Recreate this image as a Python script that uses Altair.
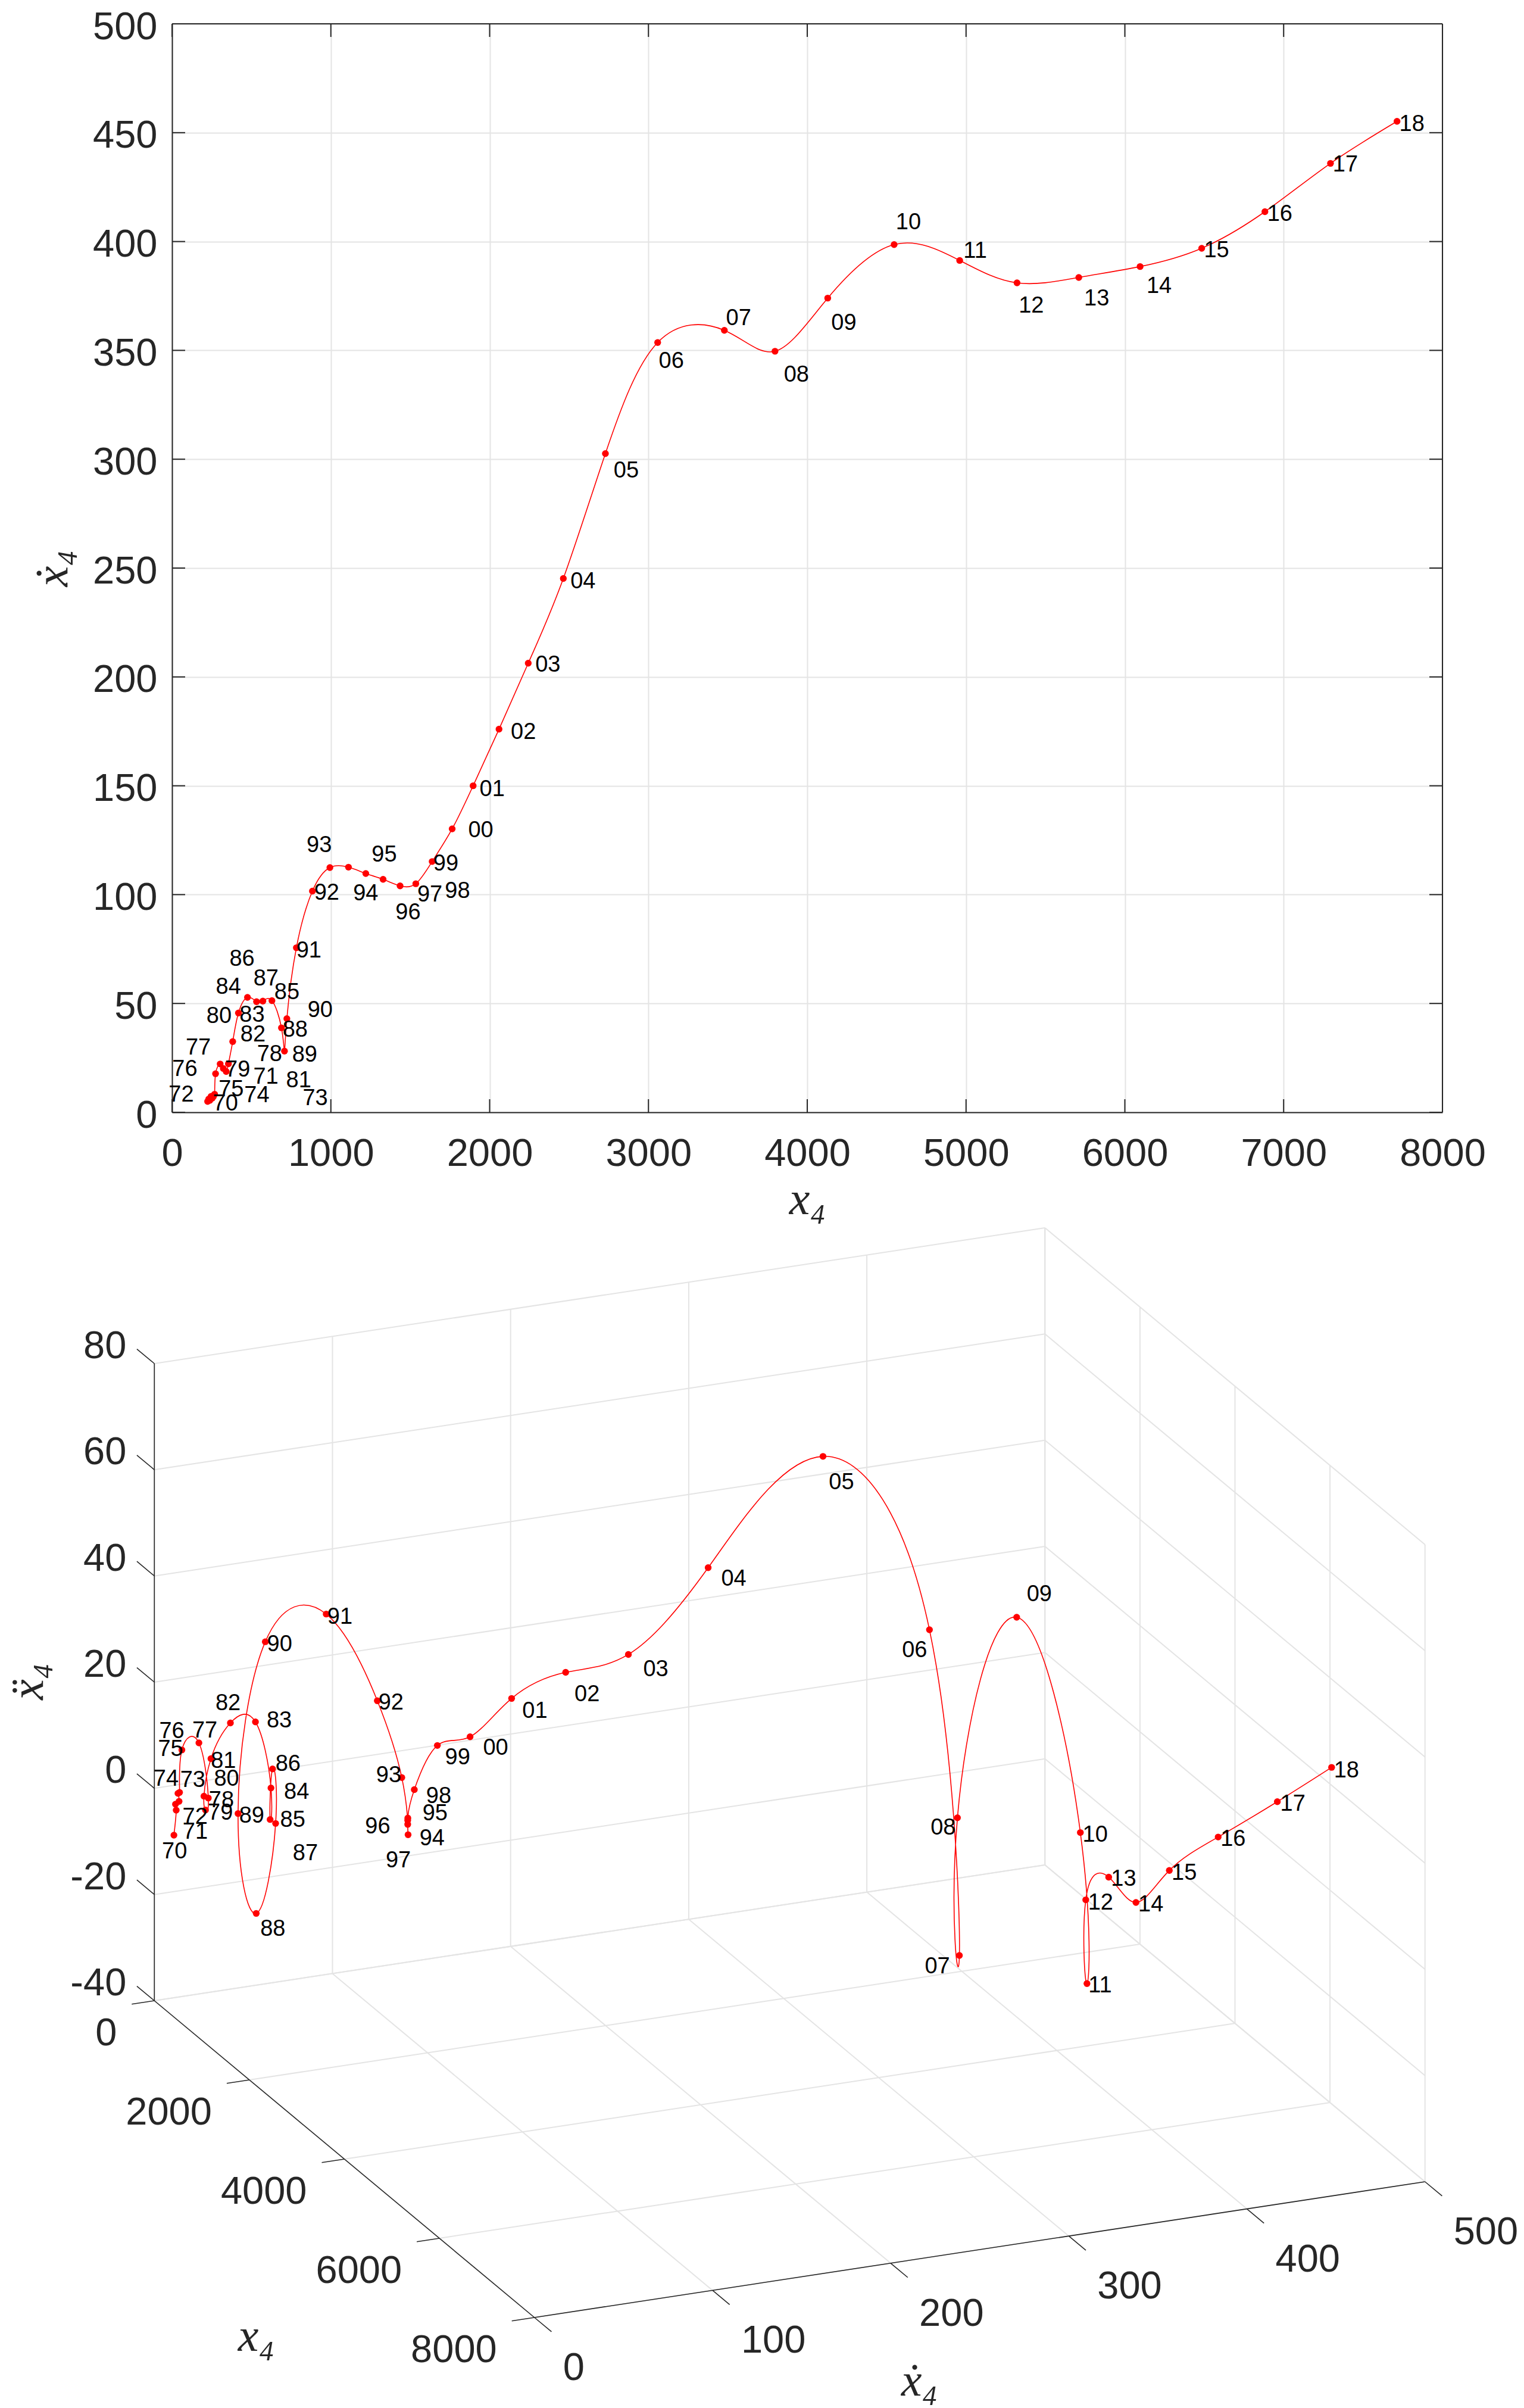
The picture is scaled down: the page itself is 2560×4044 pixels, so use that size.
import altair as alt
import pandas as pd

years = ["70","71","72","73","74","75","76","77","78","79","80","81","82","83","84","85","86","87","88","89",
         "90","91","92","93","94","95","96","97","98","99","00","01","02","03","04","05","06","07","08","09",
         "10","11","12","13","14","15","16","17","18"]
x4 = [224,231,238,246,253,260,268,274,303,323,341,355,382,418,475,532,572,629,689,708,
      723,783,884,994,1111,1220,1329,1436,1535,1638,1764,1896,2059,2243,2464,2729,3058,3478,3797,4129,
      4547,4960,5321,5710,6096,6484,6882,7295,7714]
x4dot = [5,6.1,5.5,7.3,6.5,7.2,8.3,17.7,22.2,20.1,18.75,22.3,32.5,45.6,52.8,50.8,51.1,51.3,38.8,28.1,
         43,75.6,101.6,112.4,112.6,109.7,107,104,105,115.2,130.2,150,176,206.3,245.2,302.6,353.6,359.2,349.6,374,
         398.6,391.3,381,383.5,388.5,396.9,413.7,435.9,455.2]
x4ddot = [-7.4,-2.7,-1.5,-1,0.6,0.8,8.8,9.7,-0.7,-2.7,0.1,7.1,13.5,13.3,0.9,-4.5,5.3,-4.55,-20.4,-0.9,
          30.8,34.8,17.9,3.7,-3.5,-3.3,-4.3,-0.2,5.84,14.4,16.2,23.4,28.2,31.4,47.4,67.4,34.6,-23.9,4.9,43.9,
          5.2,-19.8,-0.8,6.25,4.1,12.6,21,29.6,38.2]

# label offsets from each point, in pixels
top_dx = [30,96,-48,175,75,30,-50,-29,83,24,-12,118,34,23,-32,51,-35,-10,23,34,
          56,21,24,-18,29,31,42,50,70,23,48,32,41,33,33,35,23,24,36,27,
          24,26,24,30,32,25,25,25,25]
top_dy = [4,-37,-9,4,-4,-12,-42,-43,-16,2,-92,29,-11,4,-17,-15,-70,-36,4,7,
          -14,5,3,-37,45,-31,56,15,13,4,3,6,5,3,5,29,32,-20,40,42,
          -37,-15,39,36,33,4,4,3,5]
low_dx = [1,32,33,23,-20,-15,-17,10,22,25,38,21,-4,40,43,38,26,50,28,23,
          24,23,23,-22,41,46,-51,-16,41,34,43,39,36,46,43,31,-25,-37,-24,38,
          25,22,25,25,25,25,25,26,25]
low_dy = [28,37,22,-35,-24,-72,-31,-20,4,5,-29,5,-33,-2,7,1,-8,51,27,4,
          5,5,4,-3,31,-18,-13,72,12,21,19,22,37,26,19,44,35,19,17,-38,
          4,4,5,4,4,5,4,4,6]

x_ticks = [0,1000,2000,3000,4000,5000,6000,7000,8000]
y_ticks = [0,50,100,150,200,250,300,350,400,450,500]
x3_ticks = [0,2000,4000,6000,8000]
d3_ticks = [0,100,200,300,400,500]
z3_ticks = [-40,-20,0,20,40,60,80]

DARK = "#262626"
GRID = "#e4e4e4"
RED = "#ff0000"
SANS = "Liberation Sans"
SERIF = "Liberation Serif"
TICK_FS = 65
LBL_FS = 38
MATH_FS = 78
DOT = 130

# ---------- top panel ----------
W, H = 2134, 1828
kx, ky = W / 8000, H / 500
xs = alt.Scale(domain=[0, 8000], nice=False, zero=False)
ys = alt.Scale(domain=[0, 500], nice=False, zero=False)
TICK = 22

pts2 = pd.DataFrame({"x": x4, "y": x4dot, "t": years, "i": range(len(years)),
                     "lx": [a + d / kx for a, d in zip(x4, top_dx)],
                     "ly": [b - d / ky for b, d in zip(x4dot, top_dy)]})

base = alt.Chart(pts2).mark_line(color=RED, strokeWidth=1.6, interpolate="natural", clip=False).encode(
    x=alt.X("x:Q", scale=xs, axis=alt.Axis(
        values=x_ticks, format="d", title="x₄", ticks=False, grid=True, gridColor=GRID, gridWidth=2,
        domainColor=DARK, domainWidth=2, labelFont=SANS, labelFontSize=TICK_FS, labelColor=DARK,
        labelPadding=38, labelOverlap=False, labelFlush=False,
        titleFont=SERIF, titleFontStyle="italic", titleFontWeight="normal", titleFontSize=MATH_FS,
        titleColor=DARK, titlePadding=6)),
    y=alt.Y("y:Q", scale=ys, axis=alt.Axis(
        values=y_ticks, format="d", title="ẋ₄", ticks=False, grid=True, gridColor=GRID, gridWidth=2,
        domainColor=DARK, domainWidth=2, labelFont=SANS, labelFontSize=TICK_FS, labelColor=DARK,
        labelPadding=25, labelOffset=5, labelOverlap=False, labelFlush=False,
        titleFont=SERIF, titleFontStyle="italic", titleFontWeight="normal", titleFontSize=MATH_FS,
        titleColor=DARK, titlePadding=27)),
    order="i:Q")

dots2 = alt.Chart(pts2).mark_circle(color=RED, opacity=1, size=DOT).encode(
    x=alt.X("x:Q", scale=xs), y=alt.Y("y:Q", scale=ys))
text2 = alt.Chart(pts2).mark_text(font=SANS, fontSize=LBL_FS, color="black", align="center", baseline="middle").encode(
    x=alt.X("lx:Q", scale=xs), y=alt.Y("ly:Q", scale=ys), text="t:N")

tx = TICK / kx
ty = TICK / ky
seg_rows = []
for t in x_ticks:
    seg_rows += [dict(a=t, a2=t, b=0, b2=ty), dict(a=t, a2=t, b=500, b2=500 - ty)]
for t in y_ticks:
    seg_rows += [dict(a=0, a2=tx, b=t, b2=t), dict(a=8000, a2=8000 - tx, b=t, b2=t)]
seg_rows += [dict(a=0, a2=8000, b=500, b2=500), dict(a=8000, a2=8000, b=0, b2=500)]
frame2 = alt.Chart(pd.DataFrame(seg_rows)).mark_rule(color=DARK, strokeWidth=2).encode(
    x=alt.X("a:Q", scale=xs), x2="a2:Q", y=alt.Y("b:Q", scale=ys), y2="b2:Q")

top = alt.layer(frame2, base, dots2, text2).properties(width=W, height=H)

# ---------- 3-D panel: orthographic view of the box ----------
ORIGIN = (258.8, 3360.0)
V_X = (638.4 / 8000, 532.0 / 8000)
V_D = (1496.0 / 500, -228.0 / 500)
V_Z = (0.0, -1070.0 / 120)


def proj(a, d, z):
    return (ORIGIN[0] + V_X[0] * a + V_D[0] * d + V_Z[0] * (z + 40),
            ORIGIN[1] + V_X[1] * a + V_D[1] * d + V_Z[1] * (z + 40))


PX0, PX1 = 288.5, 288.5 + W
PY0, PY1 = 2060.0, 4040.0
sx = alt.Scale(domain=[PX0, PX1], nice=False, zero=False)
sy = alt.Scale(domain=[PY1, PY0], nice=False, zero=False)


def lines(rows, color, width):
    data = []
    for n, (p, q) in enumerate(rows):
        for e in (p, q):
            s = proj(*e)
            data.append(dict(n=n, sx=s[0], sy=s[1]))
    return alt.Chart(pd.DataFrame(data)).mark_line(color=color, strokeWidth=width, clip=False).encode(
        x=alt.X("sx:Q", scale=sx, axis=None), y=alt.Y("sy:Q", scale=sy, axis=None), detail="n:N")


grid_rows = []
for a in x3_ticks:
    grid_rows.append(((a, 0, -40), (a, 500, -40)))
    grid_rows.append(((a, 500, -40), (a, 500, 80)))
for d in d3_ticks:
    grid_rows.append(((0, d, -40), (8000, d, -40)))
    grid_rows.append(((0, d, -40), (0, d, 80)))
for z in z3_ticks:
    grid_rows.append(((0, 0, z), (0, 500, z)))
    grid_rows.append(((0, 500, z), (8000, 500, z)))
grid3 = lines(grid_rows, GRID, 2)

axis_rows = [((0, 0, -40), (8000, 0, -40)), ((8000, 0, -40), (8000, 500, -40)), ((0, 0, -40), (0, 0, 80))]
for a in x3_ticks:
    axis_rows.append(((a, 0, -40), (a, -12.7, -40)))
for d in d3_ticks:
    axis_rows.append(((8000, d, -40), (8360, d, -40)))
for z in z3_ticks:
    axis_rows.append(((0, 0, z), (-368, 0, z)))
axis3 = lines(axis_rows, DARK, 1.6)

P3 = [proj(a, d, z) for a, d, z in zip(x4, x4dot, x4ddot)]
pts3 = pd.DataFrame({"sx": [p[0] for p in P3], "sy": [p[1] for p in P3], "t": years, "i": range(len(years)),
                     "lx": [p[0] + d for p, d in zip(P3, low_dx)],
                     "ly": [p[1] + d for p, d in zip(P3, low_dy)]})
curve3 = alt.Chart(pts3).mark_line(color=RED, strokeWidth=1.6, interpolate="natural", clip=False).encode(
    x=alt.X("sx:Q", scale=sx, axis=None), y=alt.Y("sy:Q", scale=sy, axis=None), order="i:Q")
dots3 = alt.Chart(pts3).mark_circle(color=RED, opacity=1, size=DOT).encode(
    x=alt.X("sx:Q", scale=sx), y=alt.Y("sy:Q", scale=sy))
text3 = alt.Chart(pts3).mark_text(font=SANS, fontSize=LBL_FS, color="black", align="center", baseline="middle").encode(
    x=alt.X("lx:Q", scale=sx), y=alt.Y("ly:Q", scale=sy), text="t:N")


def tick_text(values, anchor, dx, dy, align):
    rows = []
    for v in values:
        s = proj(*anchor(v))
        rows.append(dict(sx=s[0] + dx, sy=s[1] + dy, t=str(v)))
    return alt.Chart(pd.DataFrame(rows)).mark_text(
        font=SANS, fontSize=TICK_FS, color=DARK, align=align, baseline="middle").encode(
        x=alt.X("sx:Q", scale=sx), y=alt.Y("sy:Q", scale=sy), text="t:N")


lab_x = tick_text(x3_ticks, lambda v: (v, 0, -40), -63, 55, "right")
lab_d = tick_text(d3_ticks, lambda v: (8000, v, -40), 48, 85, "left")
lab_z = tick_text(z3_ticks, lambda v: (0, 0, v), -47, -29, "right")


def math_text(sx_, sy_, s, angle=0):
    return alt.Chart(pd.DataFrame([dict(sx=sx_, sy=sy_, t=s)])).mark_text(
        font=SERIF, fontStyle="italic", fontSize=MATH_FS, color=DARK, align="center", baseline="middle",
        angle=angle).encode(x=alt.X("sx:Q", scale=sx), y=alt.Y("sy:Q", scale=sy), text="t:N")


t_a = math_text(430, 3925, "x₄")
t_b = math_text(1544, 4000, "ẋ₄")
t_c = math_text(48, 2824, "ẍ₄", angle=270)

low = alt.layer(grid3, axis3, curve3, dots3, text3, lab_x, lab_d, lab_z, t_a, t_b, t_c).properties(
    width=W, height=PY1 - PY0)

chart = alt.vconcat(top, low, spacing=PY0 - 1868, bounds="flush").resolve_scale(
    x="independent", y="independent").properties(
    padding={"left": 1, "top": 5, "right": 0, "bottom": 0}).configure_view(stroke=None)

chart.save("out.html", embed_options={"renderer": "svg", "actions": False})
